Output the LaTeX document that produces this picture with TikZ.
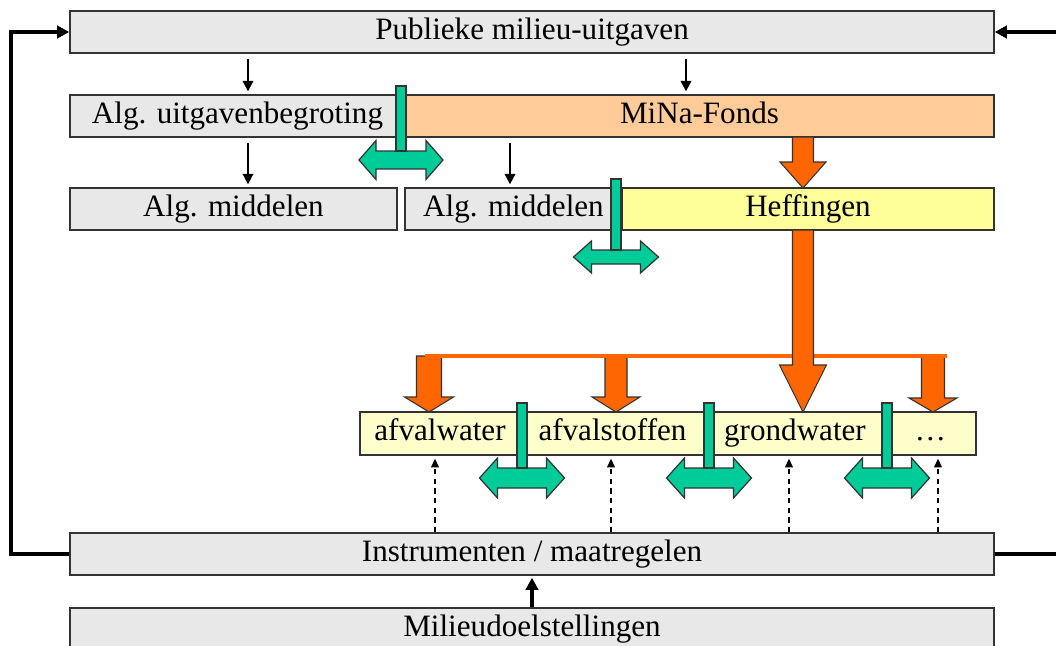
\documentclass[tikz,border=0pt]{standalone}
\usepackage{fontspec}
\setmainfont{Liberation Serif}
\usetikzlibrary{arrows.meta,calc}
\definecolor{boxgray}{HTML}{E8E8E8}
\definecolor{boxline}{HTML}{333333}
\definecolor{peach}{HTML}{FFCC99}
\definecolor{heffyel}{HTML}{FFFF99}
\definecolor{paleyel}{HTML}{FFFFCC}
\definecolor{tgreen}{HTML}{00CC99}
\definecolor{torange}{HTML}{FF6600}
\tikzset{
  box/.style={draw=boxline, line width=0.8pt, fill=boxgray, inner sep=0pt,
    minimum height=0.84cm, text height=12pt, text depth=3.6pt,
    font=\fontsize{17.7}{20}\selectfont},
  arr/.style={draw=black, line width=1.2pt, -{Triangle[length=6pt,width=6pt]}},
  dasharr/.style={draw=black, line width=0.7pt, dashed, dash pattern=on 3pt off 2.5pt,
    -{Triangle[length=5pt,width=4.5pt]}},
  fbline/.style={draw=black, line width=2.1pt},
  fbarr/.style={fbline, -{Triangle[length=7pt,width=7pt]}},
  greenshape/.style={fill=tgreen, draw=boxline, line width=0.7pt, line join=miter},
  orangeshape/.style={fill=torange, draw=boxline, line width=0.6pt, line join=miter},
}
% \greenT{cx}{bartop}{cy}{halfwidth}{headhalf}{shafthalf}{headlen}
\newcommand\greenT[7]{%
  \draw[greenshape] (#1-#4,#3) -- (#1-#4+#7,#3-#5) -- (#1-#4+#7,#3-#6) -- (#1+#4-#7,#3-#6)
    -- (#1+#4-#7,#3-#5) -- (#1+#4,#3) -- (#1+#4-#7,#3+#5) -- (#1+#4-#7,#3+#6)
    -- (#1-#4+#7,#3+#6) -- (#1-#4+#7,#3+#5) -- cycle;
  \draw[greenshape] (#1-5,#2) rectangle (#1+5,#3-#6);
}
% \orangeArrow{cx}{top}{headbase}{tip}{shafthalf}{headhalf}
\newcommand\orangeArrow[6]{%
  \draw[orangeshape] (#1-#5,#2) -- (#1+#5,#2) -- (#1+#5,#3) -- (#1+#6,#3) -- (#1,#4)
    -- (#1-#6,#3) -- (#1-#5,#3) -- cycle;
}
\begin{document}
\begin{tikzpicture}[x=0.02cm,y=-0.02cm]
\useasboundingbox (0,0) rectangle (1056,646);
% boxes
\node[box, minimum width=18.48cm] (pub) at (532,32) {Publieke milieu-uitgaven};
\node[box, minimum width=6.7cm] (alg) at (237.5,116) {Alg. uitgavenbegroting};
\node[box, fill=peach, minimum width=11.78cm] (mina) at (699.5,116) {MiNa-Fonds};
\node[box, minimum width=6.54cm] (am1) at (233.5,209) {Alg. middelen};
\node[box, minimum width=4.34cm] (am2) at (513.5,209) {Alg. middelen};
\node[box, fill=heffyel, minimum width=7.44cm] (heff) at (808,209) {Heffingen};
\node[box, fill=paleyel, minimum width=3.2cm, minimum height=0.86cm] (afw) at (440,433.5) {afvalwater};
\node[box, fill=paleyel, minimum width=3.7cm, minimum height=0.86cm] (afs) at (612.5,433.5) {afvalstoffen};
\node[box, fill=paleyel, minimum width=3.6cm, minimum height=0.86cm] (grw) at (795,433.5) {grondwater};
\node[box, fill=paleyel, minimum width=1.82cm, minimum height=0.86cm] (dots) at (930.5,433.5) {…};
\node[box, minimum width=18.48cm] (instr) at (532,554) {Instrumenten / maatregelen};
\node[box, minimum width=18.48cm] (mil) at (532,629) {Milieudoelstellingen};
% helper coordinates
\coordinate (c1) at (248,0);
\coordinate (c2) at (686,0);
\coordinate (c3) at (510,0);
\coordinate (d1) at (435,0);
\coordinate (d2) at (611,0);
\coordinate (d3) at (789,0);
\coordinate (d4) at (938,0);
\coordinate (L) at (11,0);
\coordinate (R) at (1064,0);
% thin arrows
\draw[arr, shorten <=2.8pt, shorten >=1.7pt] (pub.south -| c1) -- (alg.north -| c1);
\draw[arr, shorten <=2.8pt, shorten >=1.7pt] (pub.south -| c2) -- (mina.north -| c2);
\draw[arr, shorten <=2.8pt, shorten >=1.7pt] (alg.south -| c1) -- (am1.north -| c1);
\draw[arr, shorten <=2.8pt, shorten >=1.7pt] (mina.south -| c3) -- (am2.north -| c3);
% dashed arrows
\draw[dasharr, shorten >=1.7pt] (instr.north -| d1) -- (afw.south -| d1);
\draw[dasharr, shorten >=1.7pt] (instr.north -| d2) -- (afs.south -| d2);
\draw[dasharr, shorten >=1.7pt] (instr.north -| d3) -- (grw.south -| d3);
\draw[dasharr, shorten >=1.7pt] (instr.north -| d4) -- (dots.south -| d4);
% milieu -> instrumenten
\draw[fbarr, line width=1.8pt, shorten >=1.1pt] (mil.north) -- (instr.south);
% feedback lines
\draw[fbarr] (instr.west) -- (instr.west -| L) -- (pub.west -| L) -- (pub.west);
\draw[fbarr] (instr.east) -- (instr.east -| R) -- (pub.east -| R) -- (pub.east);
% orange arrows
\orangeArrow{803}{137}{162}{188}{10.5}{23}
\orangeArrow{429}{356}{397}{412}{12.5}{24.5}
\orangeArrow{616}{356}{397}{412}{11}{24}
\orangeArrow{933}{356}{398}{412}{11.5}{24}
\draw[torange, line width=1.8pt] (425,356) -- (947,356);
\orangeArrow{803}{230}{365}{412}{10.5}{23.5}
% green T arrows
\greenT{401}{86}{160}{42}{19.5}{9}{17}
\greenT{616}{179}{257}{42.5}{16}{7}{18}
\greenT{522}{403}{478}{42.5}{20}{10}{18}
\greenT{709}{403}{478}{42.5}{20}{10}{18}
\greenT{887}{403}{478}{42.5}{20}{10}{18}
\end{tikzpicture}
\end{document}
